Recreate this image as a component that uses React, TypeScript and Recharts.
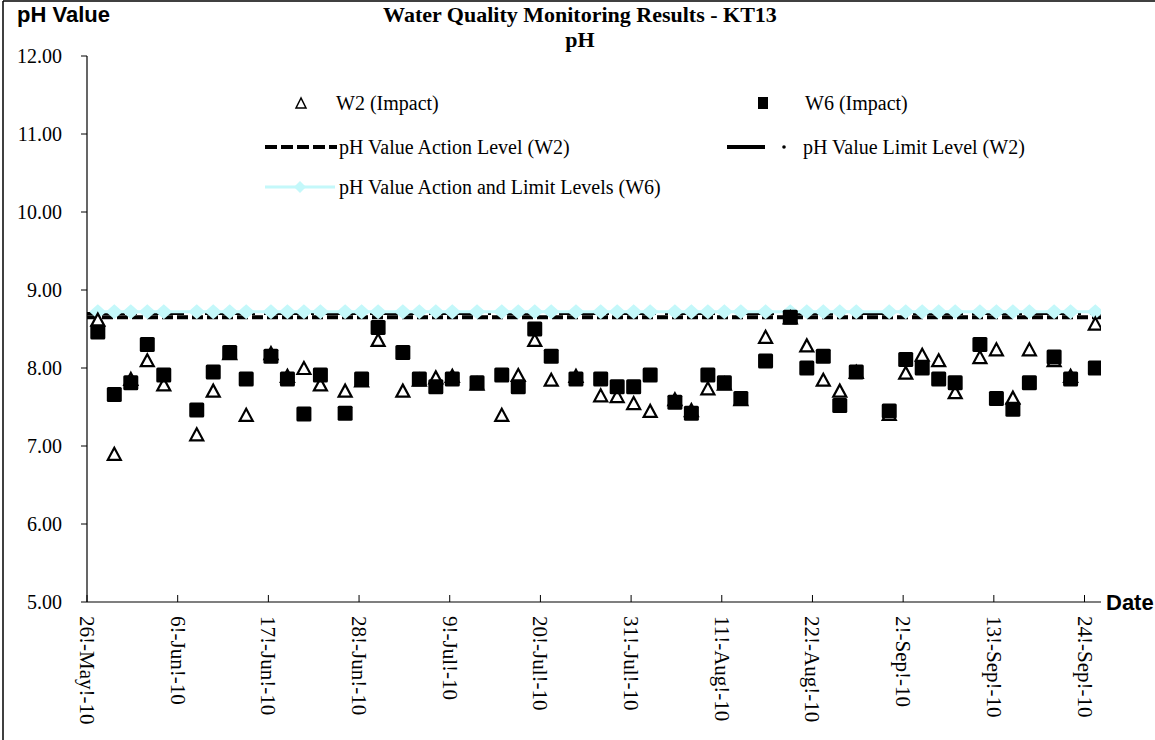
import React from 'react';
import { ComposedChart, Scatter, Line, XAxis, YAxis } from 'recharts';

// ---------- data ----------
const SAMPLE_DATES = [
  '2010-05-27', '2010-05-29', '2010-05-31', '2010-06-02', '2010-06-04', '2010-06-08',
  '2010-06-10', '2010-06-12', '2010-06-14', '2010-06-17', '2010-06-19', '2010-06-21',
  '2010-06-23', '2010-06-26', '2010-06-28', '2010-06-30', '2010-07-03', '2010-07-05',
  '2010-07-07', '2010-07-09', '2010-07-12', '2010-07-15', '2010-07-17', '2010-07-19',
  '2010-07-21', '2010-07-24', '2010-07-27', '2010-07-29', '2010-07-31', '2010-08-02',
  '2010-08-05', '2010-08-07', '2010-08-09', '2010-08-11', '2010-08-13', '2010-08-16',
  '2010-08-19', '2010-08-21', '2010-08-23', '2010-08-25', '2010-08-27', '2010-08-31',
  '2010-09-02', '2010-09-04', '2010-09-06', '2010-09-08', '2010-09-11', '2010-09-13',
  '2010-09-15', '2010-09-17', '2010-09-20', '2010-09-22', '2010-09-25',
];

const W2_PH = [
  8.62, 6.90, 7.86, 8.10, 7.79, 7.15,
  7.71, 8.19, 7.40, 8.19, 7.90, 8.00,
  7.79, 7.71, 7.84, 8.36, 7.71, 7.85,
  7.88, 7.90, 7.80, 7.40, 7.91, 8.36,
  7.85, 7.90, 7.65, 7.64, 7.55, 7.45,
  7.60, 7.46, 7.74, 7.80, 7.60, 8.40,
  8.65, 8.29, 7.85, 7.71, 7.95, 7.41,
  7.94, 8.17, 8.10, 7.69, 8.14, 8.24,
  7.62, 8.24, 8.10, 7.90, 8.57,
];

const W6_PH = [
  8.46, 7.66, 7.81, 8.30, 7.91, 7.46,
  7.95, 8.20, 7.86, 8.15, 7.86, 7.41,
  7.91, 7.42, 7.86, 8.52, 8.20, 7.86,
  7.76, 7.86, 7.81, 7.91, 7.76, 8.50,
  8.15, 7.86, 7.86, 7.76, 7.76, 7.91,
  7.56, 7.42, 7.91, 7.81, 7.61, 8.09,
  8.65, 8.00, 8.15, 7.52, 7.95, 7.45,
  8.11, 8.00, 7.86, 7.81, 8.30, 7.61,
  7.47, 7.81, 8.14, 7.86, 8.00,
];

const W2_ACTION_LEVEL = 8.65;
const W2_LIMIT_LEVEL = 8.7;
const W6_ACTION_LIMIT_LEVEL = 8.72;

const AXIS_START = '2010-05-26';
const AXIS_END = '2010-09-26';
const SAMPLE_HOUR = 7.5; // approximate sampling time of day

const X_TICK_DATES = [
  '2010-05-26', '2010-06-06', '2010-06-17', '2010-06-28', '2010-07-09', '2010-07-20',
  '2010-07-31', '2010-08-11', '2010-08-22', '2010-09-02', '2010-09-13', '2010-09-24',
];
const X_TICK_LABELS = [
  '26!-May!-10', '6!-Jun!-10', '17!-Jun!-10', '28!-Jun!-10', '9!-Jul!-10', '20!-Jul!-10',
  '31!-Jul!-10', '11!-Aug!-10', '22!-Aug!-10', '2!-Sep!-10', '13!-Sep!-10', '24!-Sep!-10',
];
const Y_TICKS = [5, 6, 7, 8, 9, 10, 11, 12];

// ---------- helpers ----------
const DAY_MS = 86400000;
const toDay = (iso: string, hour = 0) =>
  (Date.parse(iso + 'T00:00:00Z') - Date.parse(AXIS_START + 'T00:00:00Z')) / DAY_MS + hour / 24;

const w2Data = SAMPLE_DATES.map((d, i) => ({ day: toDay(d, SAMPLE_HOUR), ph: W2_PH[i] }));
const w6Data = SAMPLE_DATES.map((d, i) => ({ day: toDay(d, SAMPLE_HOUR), ph: W6_PH[i] }));
const w6LevelData = SAMPLE_DATES.map((d) => ({ day: toDay(d, SAMPLE_HOUR), level: W6_ACTION_LIMIT_LEVEL }));
const w2ActionData = [AXIS_START, AXIS_END].map((d) => ({ day: toDay(d), level: W2_ACTION_LEVEL }));
const w2LimitData = [AXIS_START, AXIS_END].map((d) => ({ day: toDay(d), level: W2_LIMIT_LEVEL }));
const X_TICK_DAYS = X_TICK_DATES.map((d) => toDay(d));
const X_DOMAIN = [toDay(AXIS_START), toDay(AXIS_END)];

const CYAN = '#c4f8fa';
const SERIF = "'Liberation Serif', 'Times New Roman', serif";
const SANS = "'Liberation Sans', Arial, sans-serif";

const TriangleShape = (props: any) => {
  const { cx, cy } = props;
  if (cx == null || cy == null) return null;
  return (
    <polygon
      points={`${cx},${cy - 6} ${cx - 6.5},${cy + 6} ${cx + 6.5},${cy + 6}`}
      fill="#fff"
      stroke="#000"
      strokeWidth={2.2}
      strokeLinejoin="miter"
    />
  );
};

const SquareShape = (props: any) => {
  const { cx, cy } = props;
  if (cx == null || cy == null) return null;
  return <rect x={cx - 7.5} y={cy - 7.5} width={15} height={15} rx={1.5} fill="#000" />;
};

const DiamondDot = (props: any) => {
  const { cx, cy, index } = props;
  if (cx == null || cy == null) return null;
  return (
    <path
      key={`d-${index}`}
      d={`M${cx},${cy - 7.5} L${cx + 8.5},${cy} L${cx},${cy + 7.5} L${cx - 8.5},${cy} Z`}
      fill={CYAN}
    />
  );
};

const XTick = (props: any) => {
  const { x, y, payload } = props;
  let idx = 0;
  let best = Infinity;
  X_TICK_DAYS.forEach((d, i) => {
    const diff = Math.abs(d - payload.value);
    if (diff < best) {
      best = diff;
      idx = i;
    }
  });
  return (
    <g>
      <line x1={x} y1={y} x2={x} y2={y - 7} stroke="#000" strokeWidth={1} />
      <text
        transform={`translate(${x},${y + 14}) rotate(90)`}
        textAnchor="start"
        dominantBaseline="central"
        fontFamily={SERIF}
        fontSize={21}
        fill="#000"
      >
        {X_TICK_LABELS[idx]}
      </text>
    </g>
  );
};

const Overlay = () => (
  <svg
    width={1155}
    height={740}
    style={{ position: 'absolute', left: 0, top: 0, pointerEvents: 'none' }}
  >
    {/* frame */}
    <line x1={3} y1={1} x2={1155} y2={1} stroke="#000" strokeWidth={1.5} />
    <line x1={3} y1={1} x2={3} y2={740} stroke="#000" strokeWidth={1.5} />

    {/* titles */}
    <text x={580} y={14} textAnchor="middle" dominantBaseline="central" fontFamily={SERIF} fontWeight="bold" fontSize={22} fill="#000">
      Water Quality Monitoring Results - KT13
    </text>
    <text x={580} y={39} textAnchor="middle" dominantBaseline="central" fontFamily={SERIF} fontWeight="bold" fontSize={22} fill="#000">
      pH
    </text>
    <text x={17} y={14} textAnchor="start" dominantBaseline="central" fontFamily={SANS} fontWeight="bold" fontSize={22} fill="#000">
      pH Value
    </text>
    <text x={1106} y={602} textAnchor="start" dominantBaseline="central" fontFamily={SANS} fontWeight="bold" fontSize={22} fill="#000">
      Date
    </text>

    {/* legend row 1 */}
    <polygon points="301,98 296,108 306,108" fill="#fff" stroke="#000" strokeWidth={1.5} />
    <text x={336} y={103} dominantBaseline="central" fontFamily={SERIF} fontSize={20} fill="#000">W2 (Impact)</text>
    <rect x={758} y={97} width={10} height={12} fill="#000" />
    <text x={805} y={103} dominantBaseline="central" fontFamily={SERIF} fontSize={20} fill="#000">W6 (Impact)</text>

    {/* legend row 2 */}
    <line x1={265} y1={147} x2={337} y2={147} stroke="#000" strokeWidth={4} strokeDasharray="12 4" />
    <text x={339} y={147} dominantBaseline="central" fontFamily={SERIF} fontSize={20} fill="#000">pH Value Action Level (W2)</text>
    <line x1={727} y1={147} x2={765} y2={147} stroke="#000" strokeWidth={4} />
    <circle cx={784} cy={147} r={1.8} fill="#000" />
    <text x={803} y={147} dominantBaseline="central" fontFamily={SERIF} fontSize={20} fill="#000">pH Value Limit Level (W2)</text>

    {/* legend row 3 */}
    <line x1={265} y1={187} x2={335} y2={187} stroke={CYAN} strokeWidth={3} />
    <path d="M300,181 L306,187 L300,193 L294,187 Z" fill={CYAN} />
    <text x={339} y={187} dominantBaseline="central" fontFamily={SERIF} fontSize={20} fill="#000">pH Value Action and Limit Levels (W6)</text>
  </svg>
);

export default function App() {
  return (
    <div style={{ position: 'absolute', left: 0, top: 0, width: 1155, height: 740, background: '#fff' }}>
      <ComposedChart width={1155} height={740} margin={{ top: 56, right: 54, bottom: 38, left: 27 }}>
        <XAxis
          type="number"
          dataKey="day"
          domain={X_DOMAIN}
          ticks={X_TICK_DAYS}
          interval={0}
          allowDataOverflow
          height={100}
          tickSize={0}
          tickMargin={0}
          tickLine={false}
          axisLine={{ stroke: '#000', strokeWidth: 1.2 }}
          tick={<XTick />}
        />
        <YAxis
          type="number"
          domain={[5, 12]}
          ticks={Y_TICKS}
          interval={0}
          allowDataOverflow
          width={60}
          tickSize={6}
          tickMargin={19}
          tickFormatter={(v: number) => v.toFixed(2)}
          tick={{ fontFamily: SERIF, fontSize: 20, fill: '#000' }}
          tickLine={{ stroke: '#000' }}
          axisLine={{ stroke: '#000', strokeWidth: 1.2 }}
        />
        <Line
          data={w2ActionData}
          dataKey="level"
          type="linear"
          stroke="#000"
          strokeWidth={4}
          strokeDasharray="11 4"
          dot={false}
          activeDot={false}
          isAnimationActive={false}
        />
        <Line
          data={w2LimitData}
          dataKey="level"
          type="linear"
          stroke="#000"
          strokeWidth={3}
          strokeDasharray="38 9 3 9"
          dot={false}
          activeDot={false}
          isAnimationActive={false}
        />
        <Line
          data={w6LevelData}
          dataKey="level"
          type="linear"
          stroke={CYAN}
          strokeWidth={3}
          dot={(p: any) => <DiamondDot {...p} />}
          activeDot={false}
          isAnimationActive={false}
        />
        <Scatter data={w2Data} dataKey="ph" shape={(p: any) => <TriangleShape {...p} />} isAnimationActive={false} />
        <Scatter data={w6Data} dataKey="ph" shape={(p: any) => <SquareShape {...p} />} isAnimationActive={false} />
      </ComposedChart>
      <Overlay />
    </div>
  );
}
